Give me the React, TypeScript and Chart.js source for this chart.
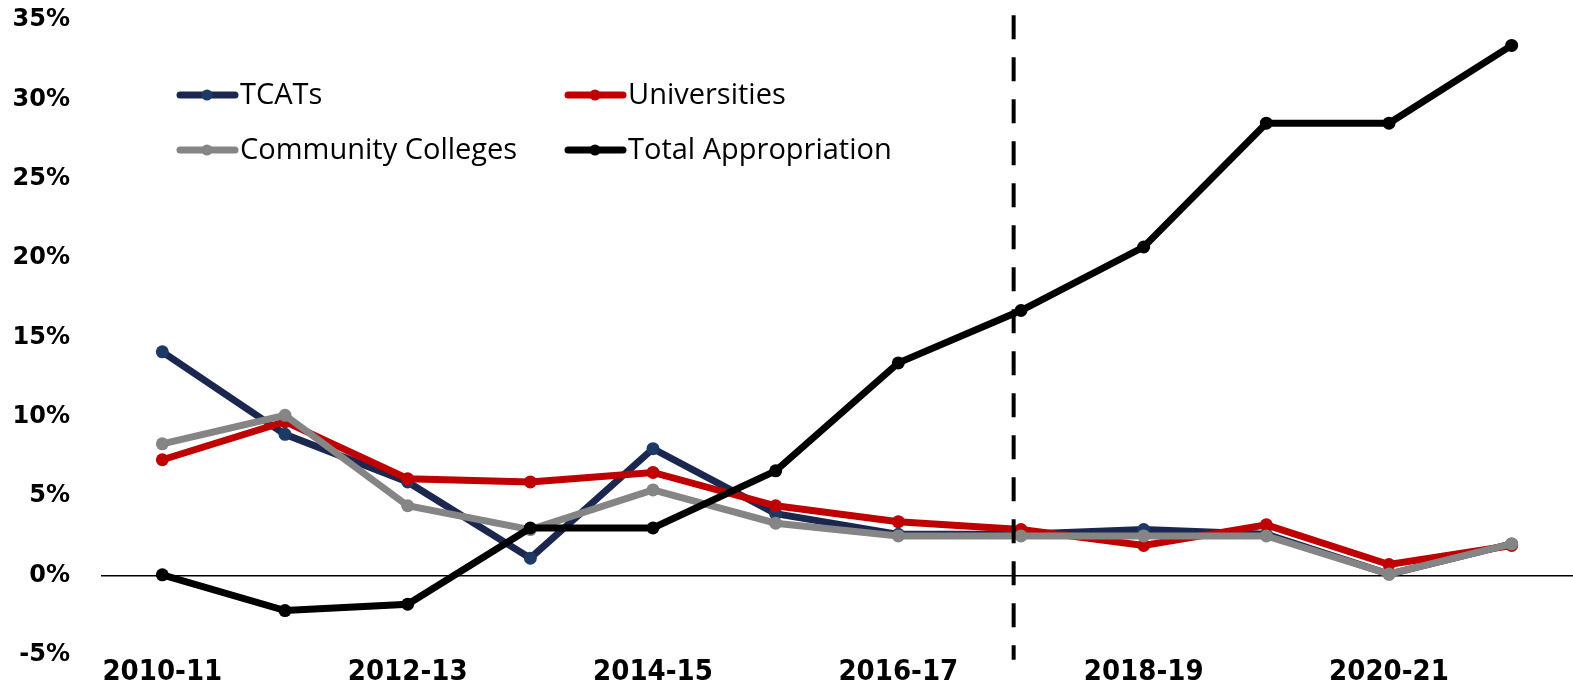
import React, { useEffect, useRef } from "react";
import { Chart, registerables } from "chart.js";

Chart.register(...registerables);

const categories = ["2010-11", "2011-12", "2012-13", "2013-14", "2014-15", "2015-16", "2016-17", "2017-18", "2018-19", "2019-20", "2020-21", "2021-22"];
const tcats = [14.1, 8.9, 5.9, 1.1, 8.0, 3.9, 2.6, 2.6, 2.9, 2.6, 0.1, 2.0];
const universities = [7.3, 9.7, 6.1, 5.9, 6.5, 4.4, 3.4, 2.9, 1.9, 3.2, 0.7, 1.9];
const communityColleges = [8.3, 10.1, 4.4, 2.9, 5.4, 3.3, 2.5, 2.5, 2.5, 2.5, 0.1, 2.0];
const totalAppropriation = [0.05, -2.2, -1.8, 3.0, 3.0, 6.6, 13.4, 16.7, 20.7, 28.5, 28.5, 33.4];
const yTicks = [-5, 0, 5, 10, 15, 20, 25, 30, 35];
const dividerIndex = 6.94;

const legendItems = [
  { label: "TCATs", color: "#1c2750", point: "#1d3a66", col: 0, row: 0 },
  { label: "Universities", color: "#c00000", point: "#c00000", col: 1, row: 0 },
  { label: "Community Colleges", color: "#858585", point: "#858585", col: 0, row: 1 },
  { label: "Total Appropriation", color: "#000000", point: "#000000", col: 1, row: 1 },
];

const overlayPlugin = {
  id: "overlay",
  afterDatasetsDraw(chart: any) {
    const ctx = chart.ctx;
    const x = chart.scales.x.getPixelForValue(dividerIndex);
    const y = chart.scales.y;
    ctx.save();
    ctx.strokeStyle = "#000";
    ctx.lineWidth = 4;
    ctx.setLineDash([24, 18]);
    ctx.beginPath();
    ctx.moveTo(x, y.getPixelForValue(35.3));
    ctx.lineTo(x, y.getPixelForValue(-5.3));
    ctx.stroke();
    ctx.restore();
  },
  afterDraw(chart: any) {
    const ctx = chart.ctx;
    ctx.save();
    ctx.font = "29px 'Open Sans'";
    ctx.textBaseline = "middle";
    legendItems.forEach((it) => {
      const x0 = it.col === 0 ? 180 : 568;
      const yy = it.row === 0 ? 95 : 150;
      ctx.strokeStyle = it.color;
      ctx.lineWidth = 7;
      ctx.lineCap = "round";
      ctx.setLineDash([]);
      ctx.beginPath();
      ctx.moveTo(x0, yy);
      ctx.lineTo(x0 + 55, yy);
      ctx.stroke();
      ctx.fillStyle = it.point;
      ctx.beginPath();
      ctx.arc(x0 + 27, yy, 5.5, 0, Math.PI * 2);
      ctx.fill();
      ctx.fillStyle = "#000";
      ctx.fillText(it.label, x0 + 60, yy + 1);
    });
    ctx.restore();
  },
};

function mk(label: string, data: number[], color: string, point: string, order: number) {
  return {
    label,
    data,
    borderColor: color,
    backgroundColor: point,
    pointBackgroundColor: point,
    pointBorderColor: point,
    borderWidth: 7,
    pointRadius: 6.5,
    pointBorderWidth: 0,
    tension: 0,
    order,
  };
}

export default function App() {
  const ref = useRef<HTMLCanvasElement>(null);
  useEffect(() => {
    if (!ref.current) return;
    const chart = new Chart(ref.current, {
      type: "line",
      data: {
        labels: categories,
        datasets: [
          mk("TCATs", tcats, "#1c2750", "#1d3a66", 3),
          mk("Universities", universities, "#c00000", "#c00000", 2),
          mk("Community Colleges", communityColleges, "#858585", "#858585", 1),
          mk("Total Appropriation", totalAppropriation, "#000000", "#000000", 0),
        ],
      },
      options: {
        animation: false,
        responsive: false,
        maintainAspectRatio: false,
        layout: { autoPadding: false, padding: { top: 0, right: 0, left: 0, bottom: 0 } },
        plugins: { legend: { display: false }, tooltip: { enabled: false } },
        scales: {
          x: {
            offset: true,
            grid: { display: false },
            border: { display: false },
            ticks: {
              autoSkip: false,
              maxRotation: 0,
              color: "#000",
              padding: -8,
              font: { family: "'Liberation Sans Narrow', 'DejaVu Sans Condensed', 'Open Sans'", weight: "bold", size: 29 },
              callback: (_v: any, i: number) => (i % 2 === 0 ? categories[i] : ""),
            },
            afterFit: (s: any) => {
              s.height = 33;
              s.paddingLeft = 0;
              s.paddingRight = 0;
            },
          },
          y: {
            min: -5,
            max: 35,
            afterBuildTicks: (s: any) => { s.ticks = yTicks.map((v) => ({ value: v })); },
            grid: {
              drawTicks: false,
              lineWidth: (c: any) => (c.tick && c.tick.value === 0 ? 1.5 : 0),
              color: (c: any) => (c.tick && c.tick.value === 0 ? "#000" : "rgba(0,0,0,0)"),
            },
            border: { display: false },
            ticks: {
              color: "#000",
              padding: 31,
              font: { family: "'DejaVu Sans'", weight: "bold", size: 24 },
              callback: (v: any) => `${v}%`,
            },
            afterFit: (s: any) => {
              s.width = 101;
              s.paddingTop = 20;
              s.paddingBottom = 0;
            },
          },
        },
      },
      plugins: [overlayPlugin],
    } as any);
    return () => chart.destroy();
  }, []);
  return (
    <div style={{ position: "fixed", left: 0, top: 0, width: 1573, height: 688, background: "#fff" }}>
      <canvas ref={ref} width={1573} height={688} style={{ width: 1573, height: 688 }} />
    </div>
  );
}
